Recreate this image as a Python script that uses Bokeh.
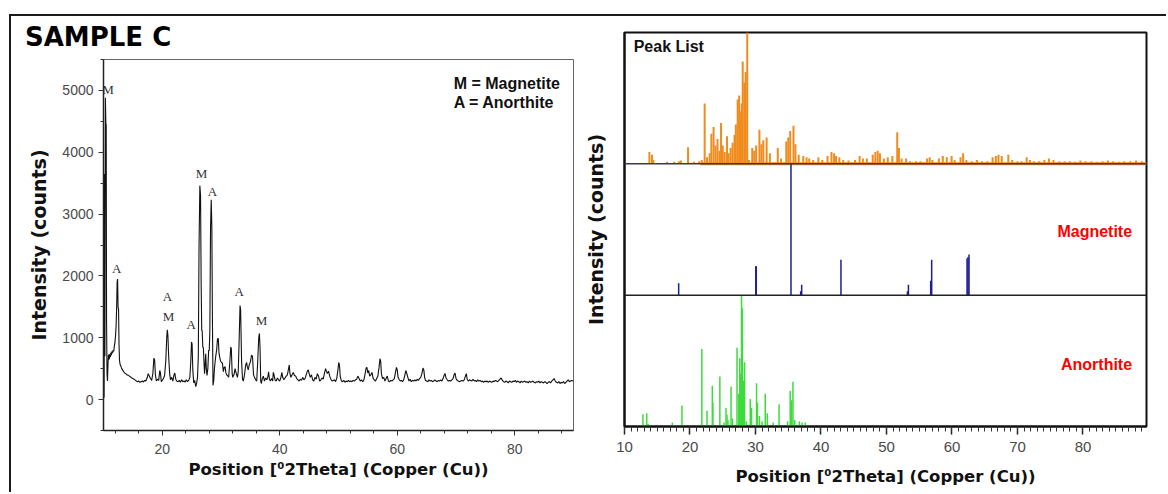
from bokeh.plotting import figure
from bokeh.models import Range1d, SingleIntervalTicker, FixedTicker, Span, Div
from bokeh.core.properties import value
from bokeh.embed import file_html
from bokeh.resources import INLINE

# ---------------- measured diffraction pattern (left panel) ----------------
X_DEG = [
    10.00, 10.10, 10.18, 10.24, 10.32, 10.40, 10.46, 10.52, 10.60, 10.68, 10.76, 10.84, 10.90, 10.96,
    11.02, 11.10, 11.18, 11.26, 11.34, 11.44, 11.54, 11.64, 11.74, 11.84, 11.94, 12.04, 12.14, 12.24,
    12.32, 12.40, 12.48, 12.56, 12.64, 12.72, 12.82, 12.96, 13.10, 13.25, 13.40, 13.60, 13.80, 14.00,
    14.20, 14.40, 14.60, 14.80, 15.00, 15.20, 15.40, 15.60, 15.80, 16.00, 16.20, 16.40, 16.60, 16.80,
    17.00, 17.20, 17.46, 17.60, 17.80, 18.00, 18.20, 18.40, 18.58, 18.70, 18.84, 19.00, 19.20, 19.40,
    19.58, 19.68, 19.84, 20.00, 20.20, 20.40, 20.60, 20.76, 20.86, 20.96, 21.10, 21.26, 21.40, 21.60,
    21.80, 22.00, 22.14, 22.30, 22.46, 22.70, 22.90, 23.10, 23.30, 23.50, 23.70, 23.90, 24.10, 24.30,
    24.50, 24.70, 24.86, 24.98, 25.08, 25.20, 25.36, 25.52, 25.70, 25.86, 26.00, 26.14, 26.26, 26.40,
    26.52, 26.62, 26.72, 26.80, 26.90, 27.00, 27.10, 27.20, 27.30, 27.40, 27.50, 27.62, 27.76, 27.90,
    28.00, 28.10, 28.22, 28.34, 28.44, 28.54, 28.64, 28.76, 28.90, 29.10, 29.26, 29.40, 29.54, 29.66,
    29.80, 29.94, 30.10, 30.24, 30.40, 30.54, 30.70, 30.82, 30.96, 31.10, 31.30, 31.50, 31.66, 31.76,
    31.90, 32.00, 32.20, 32.40, 32.60, 32.80, 32.94, 33.10, 33.24, 33.34, 33.50, 33.66, 33.80, 34.00,
    34.20, 34.36, 34.50, 34.64, 34.80, 35.00, 35.20, 35.36, 35.54, 35.70, 35.90, 36.08, 36.24, 36.42,
    36.54, 36.64, 36.76, 36.88, 37.00, 37.20, 37.40, 37.60, 37.80, 38.00, 38.10, 38.24, 38.40, 38.60,
    38.80, 38.90, 39.00, 39.20, 39.40, 39.60, 39.80, 40.00, 40.20, 40.36, 40.50, 40.70, 40.90, 41.10,
    41.30, 41.50, 41.62, 41.74, 41.90, 42.10, 42.30, 42.50, 42.70, 42.90, 43.10, 43.30, 43.50, 43.70,
    43.90, 44.10, 44.30, 44.50, 44.70, 44.86, 45.00, 45.20, 45.40, 45.60, 45.80, 46.00, 46.20, 46.40,
    46.60, 46.80, 47.00, 47.20, 47.40, 47.60, 47.80, 47.94, 48.10, 48.30, 48.50, 48.70, 48.90, 49.10,
    49.30, 49.50, 49.70, 49.90, 50.04, 50.16, 50.30, 50.50, 50.70, 50.90, 51.10, 51.30, 51.50, 51.70,
    51.90, 52.10, 52.30, 52.50, 52.70, 52.90, 53.10, 53.30, 53.50, 53.70, 53.90, 54.10, 54.30, 54.50,
    54.70, 54.84, 54.98, 55.14, 55.30, 55.50, 55.70, 55.90, 56.10, 56.30, 56.50, 56.70, 56.90, 57.06,
    57.18, 57.30, 57.50, 57.70, 57.90, 58.10, 58.30, 58.50, 58.70, 58.90, 59.10, 59.30, 59.50, 59.70,
    59.86, 60.00, 60.14, 60.30, 60.50, 60.70, 60.90, 61.10, 61.30, 61.46, 61.60, 61.80, 62.00, 62.20,
    62.40, 62.60, 62.80, 63.00, 63.20, 63.40, 63.60, 63.80, 64.00, 64.20, 64.38, 64.52, 64.66, 64.80,
    65.00, 65.20, 65.40, 65.60, 65.80, 66.00, 66.20, 66.40, 66.60, 66.80, 67.00, 67.20, 67.40, 67.60,
    67.80, 68.00, 68.14, 68.30, 68.50, 68.70, 68.90, 69.10, 69.30, 69.50, 69.70, 69.84, 70.00, 70.20,
    70.40, 70.60, 70.80, 71.00, 71.20, 71.40, 71.60, 71.76, 71.90, 72.10, 72.30, 72.50, 72.70, 72.90,
    73.10, 73.30, 73.50, 73.70, 73.90, 74.10, 74.30, 74.50, 74.70, 74.90, 75.10, 75.30, 75.50, 75.70,
    75.90, 76.10, 76.30, 76.50, 76.70, 76.90, 77.10, 77.30, 77.50, 77.70, 77.90, 78.10, 78.30, 78.50,
    78.70, 78.90, 79.10, 79.30, 79.50, 79.70, 79.90, 80.10, 80.30, 80.50, 80.70, 80.90, 81.10, 81.30,
    81.50, 81.70, 81.90, 82.10, 82.30, 82.50, 82.70, 82.90, 83.10, 83.30, 83.50, 83.70, 83.90, 84.10,
    84.30, 84.50, 84.70, 84.90, 85.10, 85.30, 85.50, 85.70, 85.90, 86.10, 86.30, 86.50, 86.70, 86.90,
    87.10, 87.30, 87.50, 87.70, 87.90, 88.10, 88.30, 88.50, 88.70, 88.90, 89.10, 89.30, 89.50, 89.70,
    90.00,
]
COUNTS = [
    30, 40, 3650, 700, 4880, 4460, 4450, 1280, 420, 300, 560, 720, 640, 740,
    660, 720, 690, 760, 720, 780, 750, 800, 780, 860, 920, 1020, 1180, 1500,
    1900, 1950, 1490, 1470, 900, 640, 570, 540, 500, 480, 455, 430, 420, 400,
    395, 380, 365, 350, 340, 330, 315, 300, 290, 300, 280, 290, 300, 285,
    310, 300, 360, 420, 380, 340, 310, 420, 670, 640, 400, 300, 330, 310,
    470, 440, 290, 310, 340, 390, 620, 1000, 1130, 1040, 680, 420, 320, 360,
    300, 400, 430, 330, 300, 290, 310, 280, 320, 290, 300, 285, 320, 290,
    310, 360, 620, 930, 900, 480, 270, 310, 210, 270, 360, 700, 2460, 3460,
    3300, 1900, 1120, 1110, 850, 840, 620, 420, 560, 740, 500, 390, 500, 800,
    790, 1100, 2790, 3230, 2800, 1300, 230, 300, 520, 700, 800, 980, 990, 750,
    680, 620, 600, 590, 450, 520, 530, 440, 400, 390, 360, 600, 850, 820,
    420, 360, 400, 500, 420, 360, 460, 1000, 1520, 1450, 630, 330, 300, 400,
    560, 600, 520, 480, 560, 610, 720, 700, 400, 360, 320, 300, 600, 1000,
    1070, 850, 300, 260, 330, 380, 300, 350, 320, 380, 450, 330, 300, 340,
    300, 440, 410, 320, 300, 350, 320, 300, 360, 440, 360, 320, 350, 380,
    400, 500, 560, 420, 360, 400, 440, 390, 380, 340, 320, 300, 330, 310,
    360, 320, 340, 400, 460, 480, 420, 360, 400, 320, 300, 360, 330, 420,
    380, 300, 320, 350, 330, 420, 500, 460, 420, 460, 380, 330, 300, 310,
    320, 290, 340, 480, 600, 560, 370, 300, 290, 310, 280, 300, 290, 310,
    290, 300, 290, 310, 300, 320, 330, 380, 340, 300, 320, 290, 310, 400,
    510, 520, 430, 470, 380, 400, 440, 340, 320, 300, 340, 380, 520, 660,
    620, 420, 340, 360, 300, 340, 380, 300, 290, 310, 300, 320, 340, 440,
    520, 480, 360, 330, 300, 310, 290, 320, 400, 470, 430, 360, 300, 330,
    290, 310, 300, 320, 300, 330, 310, 340, 360, 420, 510, 480, 360, 310,
    300, 290, 320, 300, 310, 290, 300, 320, 300, 290, 310, 300, 320, 300,
    340, 400, 420, 350, 320, 300, 310, 300, 320, 340, 410, 430, 340, 310,
    300, 290, 300, 310, 300, 320, 380, 420, 330, 300, 320, 310, 300, 330,
    300, 310, 290, 320, 300, 310, 290, 300, 280, 300, 290, 300, 280, 300,
    290, 280, 300, 290, 310, 300, 290, 310, 330, 350, 310, 290, 280, 300,
    290, 270, 300, 290, 280, 300, 290, 310, 280, 300, 290, 270, 300, 280,
    290, 300, 280, 290, 270, 300, 280, 290, 300, 280, 270, 290, 280, 300,
    270, 290, 280, 270, 290, 280, 260, 280, 290, 270, 300, 320, 340, 300,
    280, 270, 290, 260, 280, 270, 290, 260, 280, 300, 320, 290, 300, 310,
    300,
]

# phase tags written above the peaks
TAG_TEXT = ["M", "A", "A", "M", "A", "M", "A", "A", "M"]
TAG_X = [10.77, 12.25, 20.9, 21.05, 24.92, 26.68, 28.55, 33.1, 36.9]
TAG_Y = [5015, 2115, 1667, 1344, 1209, 3651, 3365, 1748, 1284]

KEY_TEXT = ["M = Magnetite", "A = Anorthite"]

# ---------------- reference stick patterns (right panel), relative intensity % ----------------
PEAK_POS = [
    13.8, 14.2, 14.4, 16.5, 17.6, 18.3, 18.6, 19.7, 20.6, 21.4, 21.8, 22.24, 22.6, 23.0,
    23.26, 23.6, 23.9, 24.2, 24.5, 24.74, 25.0, 25.3, 25.65, 25.9, 26.2, 26.5, 26.8, 27.0,
    27.28, 27.5, 27.7, 27.9, 28.05, 28.3, 28.5, 28.74, 29.0, 29.5, 29.8, 30.1, 30.6, 30.9,
    31.2, 31.7, 32.2, 33.4, 33.9, 34.7, 35.0, 35.3, 35.8, 36.1, 36.6, 37.3, 37.8, 38.2,
    38.8, 39.6, 40.2, 41.0, 41.6, 42.0, 42.3, 42.8, 43.4, 44.2, 45.2, 45.9, 46.4, 47.0,
    47.9, 48.3, 48.66, 49.0, 49.6, 50.2, 50.9, 51.64, 51.9, 52.3, 53.0, 53.6, 54.5, 55.2,
    56.2, 56.6, 57.0, 58.0, 58.6, 59.2, 59.95, 60.4, 61.3, 61.7, 62.2, 63.0, 63.8, 64.6,
    65.4, 66.2, 66.7, 67.1, 67.6, 68.6, 69.2, 70.0, 70.6, 71.4, 71.9, 72.5, 73.3, 74.1,
    74.8, 75.5, 76.4, 77.2, 78.0, 78.8, 79.6, 80.4, 81.3, 82.1, 83.0, 83.8, 84.6, 85.5,
    86.3, 87.2, 88.1, 89.0,
]
PEAK_REL = [
    9, 7, 3, 1.5, 1.5, 2, 2.5, 12.6, 1.5, 2, 3, 46, 5, 8,
    23, 28, 14, 19, 10, 31, 14, 9, 21, 8, 12, 16, 22, 30,
    49, 52, 40, 46, 78, 62, 70, 100, 3, 12, 10, 14, 26, 15,
    18, 20, 8, 12, 4, 17, 20, 25, 29, 15, 7, 6, 5, 4,
    3, 5, 3, 6, 9, 8, 6, 5, 3, 2.5, 3, 6, 4, 4,
    7, 9, 10, 8, 4, 5, 6, 24, 12, 4, 4, 2, 2, 2,
    4, 5, 3, 4, 6, 5, 6, 3, 5, 8, 3, 2, 3, 2,
    2, 5, 6, 7, 6, 7, 3, 2, 2, 5, 3, 2, 2, 3,
    4, 3, 2, 2, 2, 1.5, 2.5, 2, 2, 1.5, 2, 2.5, 2, 1.5,
    2, 2, 2.5, 2,
]
PEAK_BAND = (21.6, 89.7)

MAG_POS = [18.27, 30.05, 30.12, 35.42, 36.9, 37.05, 43.05, 53.2, 53.35, 56.75, 56.9, 62.3, 62.45, 62.6]
MAG_REL = [9, 22, 22, 100, 3, 8, 27, 3, 8, 11, 27, 28, 29, 31]

ANO_POS = [
    12.81, 13.39, 13.6, 17.3, 18.77, 19.9, 21.81, 22.6, 23.41, 23.5, 24.56, 25.2, 25.5, 25.65,
    25.8, 26.27, 26.5, 27.18, 27.45, 27.6, 27.75, 27.87, 28.0, 28.15, 28.33, 28.6, 29.2, 29.4,
    30.16, 30.3, 30.6, 31.0, 31.49, 31.8, 32.7, 33.6, 34.9, 35.3, 35.5, 35.72, 36.0, 36.7,
    37.1, 37.6,
]
ANO_REL = [
    9.4, 10, 2, 3, 16, 1, 59, 12, 31, 18, 38, 3, 14, 9,
    5, 30.5, 6, 60, 25, 52, 40, 100, 90, 35, 49, 4, 21, 14,
    33, 18, 8, 4, 25, 10, 3, 17, 4, 27, 20, 34, 5, 4,
    3, 3,
]

RIGHT_TICKS = [10, 20, 30, 40, 50, 60, 70, 80]

AXIS_FONT = "DejaVu Sans"
TICK_FONT = "Liberation Sans"
X_TITLE = "Position [\u20702Theta] (Copper (Cu))"
Y_TITLE = "Intensity (counts)"
SAMPLE_TITLE = "SAMPLE C"


def style_axis_labels(ax, size):
    ax.axis_label_text_font = AXIS_FONT
    ax.axis_label_text_font_style = "bold"
    ax.axis_label_text_font_size = size
    ax.axis_label_text_color = "#111111"
    ax.major_label_text_font = TICK_FONT
    ax.major_label_text_color = "#4a4a4a"


def placed(left, top):
    return {"position": "absolute", "left": f"{left}px", "top": f"{top}px", "margin": "0px"}


# ---------------- left: measured pattern ----------------
pL = figure(title=None, width=569, height=478, x_range=Range1d(10, 90), y_range=Range1d(-500, 5500),
            output_backend="svg", toolbar_location=None, margin=0,
            min_border_left=92, min_border_right=7, min_border_top=43, min_border_bottom=64,
            styles=placed(11, 16))
pL.grid.visible = False
pL.outline_line_color = "#666666"
pL.outline_line_width = 1
pL.background_fill_color = "white"
pL.border_fill_alpha = 0

pL.xaxis.ticker = SingleIntervalTicker(interval=20, num_minor_ticks=5)
pL.yaxis.ticker = SingleIntervalTicker(interval=1000, num_minor_ticks=2)
for ax, size in ((pL.xaxis[0], "16.5px"), (pL.yaxis[0], "19px")):
    style_axis_labels(ax, size)
    ax.axis_line_color = "#222222"
    ax.axis_line_width = 1.5
    ax.major_tick_line_color = "#333333"
    ax.minor_tick_line_color = "#333333"
    ax.major_tick_in = 0
    ax.major_tick_out = 5
    ax.minor_tick_in = 0
    ax.minor_tick_out = 3
    ax.major_label_text_font_size = "14px"
pL.xaxis.major_label_standoff = 8
pL.yaxis.major_label_standoff = 5
pL.xaxis.axis_label = X_TITLE
pL.xaxis.axis_label_standoff = 3
pL.yaxis.axis_label = Y_TITLE
pL.yaxis.axis_label_standoff = 9
pL.yaxis.major_label_orientation = "horizontal"

pL.line(X_DEG, COUNTS, line_color="#111111", line_width=1.1)
pL.text(TAG_X, TAG_Y, text=TAG_TEXT, text_font=value("Liberation Serif"), text_font_size="13px",
        text_color="#333333", text_align="center", text_baseline="middle")
pL.text([69.6, 69.6], [5112, 4805], text=KEY_TEXT, text_font=value("Liberation Sans"),
        text_font_size="16px", text_font_style="bold", text_color="#111111",
        text_align="left", text_baseline="middle")

# ---------------- right: reference stick patterns ----------------
pR = figure(title=None, width=588, height=478, x_range=Range1d(10, 89.7), y_range=Range1d(0, 3),
            output_backend="svg", toolbar_location=None, margin=0,
            min_border_left=44, min_border_right=22, min_border_top=16, min_border_bottom=68,
            styles=placed(580, 16))
pR.grid.visible = False
pR.outline_line_color = "#111111"
pR.outline_line_width = 2
pR.border_fill_alpha = 0

pR.xaxis.ticker = FixedTicker(ticks=RIGHT_TICKS, minor_ticks=list(range(10, 90)))
xa = pR.xaxis[0]
style_axis_labels(xa, "16.5px")
xa.axis_label = X_TITLE
xa.axis_line_color = "#111111"
xa.axis_line_width = 2
xa.major_tick_line_color = "#222222"
xa.major_tick_line_width = 1.5
xa.minor_tick_line_color = "#333333"
xa.major_tick_in = 0
xa.major_tick_out = 8
xa.minor_tick_in = 0
xa.minor_tick_out = 5
xa.major_label_text_font_size = "15px"
xa.major_label_standoff = 7
xa.axis_label_standoff = 12

ya = pR.yaxis[0]
style_axis_labels(ya, "19px")
ya.ticker = FixedTicker(ticks=[])
ya.axis_label = Y_TITLE
ya.axis_line_color = "#111111"
ya.axis_line_width = 2
ya.major_tick_out = 0
ya.minor_tick_out = 0
ya.major_label_text_font_size = "0px"
ya.major_label_standoff = 0
ya.axis_label_standoff = 18

# panel dividers
pR.add_layout(Span(location=2, dimension="width", line_color="#3a3a55", line_width=1.5))
pR.add_layout(Span(location=1, dimension="width", line_color="#222222", line_width=1.5))

ORANGE = "#f08c1e"
NAVY = "#1e1e96"
GREEN = "#3cdc3c"

# peak list (top band, baseline at 2)
pR.segment(x0=[PEAK_BAND[0]], y0=[2.0], x1=[PEAK_BAND[1]], y1=[2.0], line_color=ORANGE, line_width=3)
pR.segment(x0=PEAK_POS, y0=[2.0] * len(PEAK_POS), x1=PEAK_POS,
           y1=[2.0 + r / 100.0 for r in PEAK_REL], line_color=ORANGE, line_width=2)
# magnetite reference (middle band, baseline at 1)
pR.segment(x0=MAG_POS, y0=[1.0] * len(MAG_POS), x1=MAG_POS,
           y1=[1.0 + r / 100.0 for r in MAG_REL], line_color=NAVY, line_width=1.5)
# anorthite reference (bottom band, baseline at 0)
pR.segment(x0=ANO_POS, y0=[0.0] * len(ANO_POS), x1=ANO_POS,
           y1=[r / 100.0 for r in ANO_REL], line_color=GREEN, line_width=1.5)

pR.text([11.4], [2.896], text=["Peak List"], text_font=value("Liberation Sans"), text_font_size="16px",
        text_font_style="bold", text_color="#111111", text_align="left", text_baseline="middle")
pR.text([87.5, 87.5], [1.481, 0.473], text=["Magnetite", "Anorthite"], text_font=value("Liberation Sans"),
        text_font_size="16px", text_font_style="bold", text_color="#ff0000",
        text_align="right", text_baseline="middle")

# outer frame (top and left rules) behind both charts
frame = Div(text="", width=1157, height=478, margin=0,
            styles={**placed(9, 14), "border-top": "2px solid #1a1a1a", "border-left": "2px solid #1a1a1a"})

# sample heading in the top-left corner of the frame
heading = Div(text=SAMPLE_TITLE, width=200, height=30, margin=0,
              styles={**placed(25, 24), "font-family": "DejaVu Sans", "font-size": "26px",
                      "font-weight": "bold", "line-height": "26px", "color": "#000000"})

open("out.html", "w").write(file_html([frame, pL, pR, heading], INLINE))
